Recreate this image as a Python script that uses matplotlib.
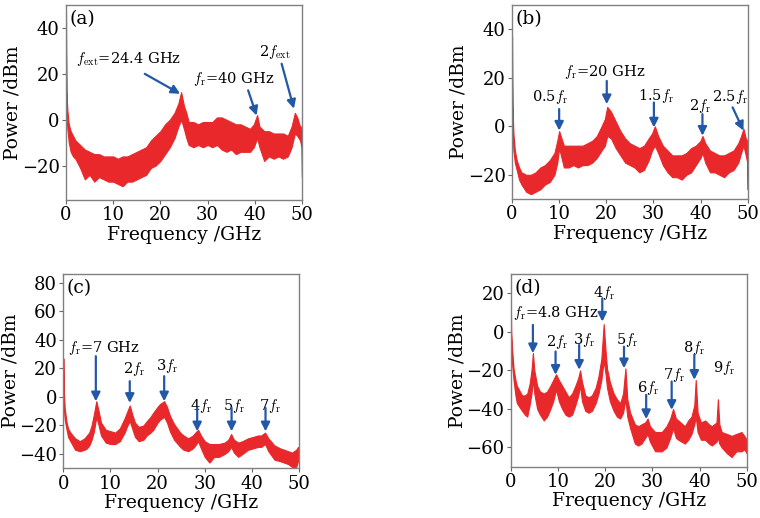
import numpy as np
import matplotlib
matplotlib.use('Agg')
import matplotlib.pyplot as plt

plt.rcParams['font.family'] = ['DejaVu Serif']
plt.rcParams['mathtext.fontset'] = 'cm'

RED = '#e8282a'
BLUE = '#2358a8'

# ---- (a) envelope of the spectrum (top / bottom of the noisy trace)
freq_a = [0.0, 0.1, 0.3, 0.6, 1.0, 1.5, 2.0, 3.0, 4.0, 5.0, 6.0, 7.0, 8.0, 9.0, 10.0,
          11.0, 12.0, 13.0, 14.0, 15.0, 16.0, 17.0, 18.0, 19.0, 20.0, 21.0, 22.0, 23.0,
          23.8, 24.4, 25.0, 25.5, 26.0, 27.0, 28.0, 29.0, 30.0, 31.0, 32.0, 33.0, 34.0,
          35.0, 36.0, 37.0, 38.0, 39.0, 39.8, 40.5, 41.0, 42.0, 43.0, 44.0, 45.0, 46.0,
          47.0, 47.8, 48.5, 49.0, 49.6, 49.9, 50.0]
top_a = [47, 12, 4, -2, -5, -7, -9, -11, -13, -14, -15, -15, -16, -16, -16,
         -17, -16, -16, -15, -14, -13, -12, -9, -7, -5, -2, 0, 3,
         7, 12, 6, 3, -1, -1, -2, -1, -1, -1, 1, 1, 0,
         -1, -2, -2, -3, -4, -2, 2, -3, -5, -5, -6, -6, -6,
         -7, -3, 3, 1, -3, -3, -10]
bot_a = [30, 2, -4, -10, -14, -16, -17, -21, -26, -24, -27, -25, -26, -27, -27,
         -28, -29, -27, -27, -26, -25, -24, -21, -20, -18, -15, -12, -8,
         -3, 0, -4, -8, -11, -12, -11, -12, -11, -12, -11, -13, -14,
         -13, -15, -14, -14, -14, -12, -8, -12, -18, -16, -17, -16, -17,
         -16, -12, -6, -7, -9, -12, -25]

# ---- (b)
freq_b = [0.0, 0.1, 0.3, 0.6, 1.0, 1.5, 2.0, 3.0, 4.0, 5.0, 6.0, 7.0, 8.0, 9.0, 9.6,
          10.0, 10.5, 11.0, 12.0, 13.0, 14.0, 15.0, 16.0, 17.0, 18.0, 19.0, 19.7, 20.2,
          21.0, 22.0, 23.0, 24.0, 25.0, 26.0, 27.0, 28.0, 29.0, 29.7, 30.3, 31.0, 32.0,
          33.0, 34.0, 35.0, 36.0, 37.0, 38.0, 39.0, 40.0, 40.4, 41.0, 42.0, 43.0, 44.0,
          45.0, 46.0, 47.0, 48.0, 48.6, 49.1, 49.6, 49.9, 50.0]
top_b = [37, 8, -3, -10, -14, -17, -19, -20, -20, -19, -17, -16, -14, -11, -6,
         -2, -5, -8, -8, -8, -8, -8, -7, -6, -4, 0, 3, 8,
         6, 2, -2, -5, -7, -8, -9, -8, -5, -3, 0, -4, -8,
         -10, -12, -12, -12, -11, -9, -8, -6, -4, -7, -10, -11, -12,
         -12, -11, -10, -7, -4, -1, -5, -6, -15]
bot_b = [20, -2, -10, -15, -18, -22, -24, -27, -28, -27, -26, -24, -23, -20, -15,
         -9, -13, -17, -17, -16, -17, -16, -16, -15, -13, -10, -8, -4,
         -5, -9, -12, -15, -16, -17, -19, -18, -14, -10, -8, -11, -16,
         -19, -21, -21, -22, -20, -19, -16, -13, -11, -15, -19, -19, -20,
         -21, -19, -18, -15, -11, -8, -12, -15, -26]

# ---- (c)
freq_c = [0.0, 0.1, 0.3, 0.7, 1.0, 1.5, 2.5, 3.5, 4.5, 5.0, 5.5, 6.0, 6.5, 7.0, 7.5,
          8.0, 9.0, 10.0, 11.0, 12.0, 13.0, 13.6, 14.1, 14.6, 15.2, 16.0, 17.0, 17.7,
          18.5, 19.1, 20.0, 20.5, 21.4, 22.0, 22.6, 23.5, 24.8, 25.5, 26.5, 27.5, 28.0,
          28.6, 29.2, 30.0, 31.0, 32.0, 33.0, 34.2, 35.0, 35.6, 36.2, 37.1, 38.0, 39.2,
          40.3, 41.3, 42.0, 42.8, 43.5, 44.8, 46.0, 47.7, 48.5, 49.4, 49.8, 50.0]
top_c = [27, 5, -8, -18, -22, -25, -29, -31, -29, -27, -25, -20, -12, -3, -10,
         -18, -23, -24, -25, -22, -15, -10, -6, -12, -18, -21, -20, -17,
         -14, -11, -7, -5, -3, -7, -13, -19, -25, -27, -29, -27, -25,
         -23, -27, -31, -33, -33, -33, -32, -30, -26, -30, -32, -31, -29,
         -28, -27, -27, -25, -29, -34, -36, -38, -39, -37, -35, -35]
bot_c = [10, -8, -16, -23, -28, -31, -37, -38, -37, -36, -34, -30, -24, -14, -20,
         -27, -32, -33, -33, -31, -25, -20, -17, -22, -28, -31, -30, -27,
         -25, -23, -18, -16, -14, -18, -24, -30, -35, -37, -38, -36, -34,
         -31, -36, -42, -46, -42, -42, -40, -38, -35, -39, -42, -40, -37,
         -36, -35, -35, -33, -38, -44, -45, -47, -49, -49, -45, -45]

# ---- (d)
freq_d = [0.0, 0.1, 0.3, 0.6, 1.0, 1.3, 2.4, 3.0, 3.5, 4.0, 4.4, 4.7, 5.0, 5.6, 6.2,
          7.0, 7.7, 8.4, 9.0, 9.6, 10.2, 10.9, 11.6, 12.3, 13.0, 13.7, 14.3, 14.7,
          15.1, 15.8, 16.5, 17.2, 18.0, 18.6, 19.2, 19.7, 20.1, 20.4, 21.0, 21.8, 22.5,
          23.2, 23.8, 24.3, 24.7, 25.3, 26.3, 27.0, 27.7, 28.5, 29.0, 29.5, 30.6, 32.0,
          33.0, 33.8, 34.4, 35.0, 35.5, 36.9, 37.6, 38.3, 38.9, 39.2, 39.6, 40.3, 41.2,
          42.0, 42.6, 43.6, 43.9, 44.2, 44.7, 45.8, 46.8, 47.8, 48.9, 49.5, 50.0]
top_d = [19, 0, -9, -19, -25, -28, -33, -33, -32, -27, -20, -11, -20, -28, -31,
         -32, -31, -28, -25, -22, -25, -28, -31, -34, -32, -28, -24, -20,
         -26, -33, -34, -33, -29, -23, -14, 4, -10, -19, -26, -32, -35,
         -37, -32, -19, -35, -42, -48, -49, -48, -47, -45, -49, -52, -52,
         -49, -45, -40, -45, -46, -49, -46, -44, -38, -25, -42, -47, -46,
         -48, -49, -47, -35, -48, -52, -53, -54, -53, -52, -54, -56]
bot_d = [5, -8, -17, -25, -33, -37, -41, -43, -44, -38, -32, -25, -32, -40, -43,
         -46, -44, -40, -36, -30, -36, -40, -43, -44, -43, -38, -33, -28,
         -36, -41, -42, -41, -37, -32, -25, -15, -22, -29, -36, -41, -44,
         -45, -42, -35, -44, -50, -58, -59, -58, -55, -53, -57, -62, -62,
         -60, -55, -50, -55, -56, -58, -56, -53, -48, -44, -52, -56, -56,
         -58, -59, -57, -55, -58, -60, -63, -65, -62, -62, -61, -63]

# annotations: (label, text x, text y, arrow tail, arrow tip)
notes_a = [(r'$f_{\rm ext}$=24.4 GHz', 2.1, 26.6, (16.7, 20.0), (24.2, 11.3)),
           (r'$f_{\rm r}$=40 GHz', 27.0, 17.9, (38.6, 12.8), (40.4, 1.8)),
           (r'2$f_{\rm ext}$', 41.0, 29.5, (45.7, 24.4), (48.3, 4.8))]
notes_b = [(r'$f_{\rm r}$=20 GHz', 11.0, 22.2, (20.1, 18.7), (20.1, 9.1)),
           (r'0.5$f_{\rm r}$', 4.2, 11.9, (10.0, 7.1), (10.0, -1.8)),
           (r'1.5$f_{\rm r}$', 26.8, 12.6, (30.1, 9.8), (30.1, -0.5)),
           (r'2$f_{\rm r}$', 37.6, 8.4, (40.4, 5.0), (40.4, -3.9)),
           (r'2.5$f_{\rm r}$', 42.4, 11.9, (46.8, 7.8), (49.1, -1.8))]
notes_c = [(r'$f_{\rm r}$=7 GHz', 1.1, 34.4, (6.9, 28.5), (6.9, -3.1)),
           (r'2$f_{\rm r}$', 12.6, 19.2, (14.1, 11.0), (14.1, -4.2)),
           (r'3$f_{\rm r}$', 19.7, 21.5, (21.4, 14.5), (21.4, -3.1)),
           (r'4$f_{\rm r}$', 26.9, -6.6, (28.4, -7.7), (28.4, -24.1)),
           (r'5$f_{\rm r}$', 33.9, -6.6, (35.7, -7.7), (35.7, -24.1)),
           (r'7$f_{\rm r}$', 41.6, -6.6, (42.9, -7.7), (42.9, -24.1))]
notes_d = [(r'$f_{\rm r}$=4.8 GHz', 0.4, 9.6, (4.7, 3.6), (4.7, -11.1)),
           (r'2$f_{\rm r}$', 7.5, -5.1, (9.5, -10.2), (9.5, -22.3)),
           (r'3$f_{\rm r}$', 13.1, -4.2, (14.5, -6.8), (14.5, -19.7)),
           (r'4$f_{\rm r}$', 17.5, 20.0, (19.4, 17.4), (19.4, 5.3)),
           (r'5$f_{\rm r}$', 22.3, -4.2, (24.0, -7.7), (24.0, -18.9)),
           (r'6$f_{\rm r}$', 26.8, -29.2, (28.7, -32.7), (28.7, -45.3)),
           (r'7$f_{\rm r}$', 32.3, -22.3, (34.1, -25.8), (34.1, -40.5)),
           (r'8$f_{\rm r}$', 36.6, -8.5, (38.9, -12.0), (38.9, -24.9)),
           (r'9$f_{\rm r}$', 42.9, -18.9, None, None)]

panels = [
    ('(a)', [0.0868, 0.6139, 0.3105, 0.3764], freq_a, top_a, bot_a, (-35, 50), [-20, 0, 20, 40], notes_a),
    ('(b)', [0.6737, 0.6158, 0.3101, 0.3745], freq_b, top_b, bot_b, (-30, 50), [-20, 0, 20, 40], notes_b),
    ('(c)', [0.0833, 0.0959, 0.3101, 0.3751], freq_c, top_c, bot_c, (-50, 86), [-40, -20, 0, 20, 40, 60, 80], notes_c),
    ('(d)', [0.6720, 0.0990, 0.3105, 0.3720], freq_d, top_d, bot_d, (-70, 30), [-60, -40, -20, 0, 20], notes_d),
]

fig = plt.figure(figsize=(7.6, 5.18), dpi=100)

for tag, pos, f, top, bot, ylim, yticks, notes in panels:
    ax = fig.add_axes(pos)
    ax.fill_between(f, bot, top, color=RED, linewidth=0.8, edgecolor=RED)
    ax.set_xlim(0, 50)
    ax.set_ylim(*ylim)
    ax.set_xticks([0, 10, 20, 30, 40, 50])
    ax.set_yticks(yticks)
    ax.tick_params(direction='out', length=3, width=0.8, labelsize=13, color='#666666', pad=1.5)
    for sp in ax.spines.values():
        sp.set_color('#808080')
        sp.set_linewidth(1.0)
    ax.set_xlabel('Frequency /GHz', fontsize=13.5, labelpad=1)
    ax.set_ylabel('Power /dBm', fontsize=13.5, labelpad=0)
    ax.text(0.015, 0.975, tag, transform=ax.transAxes, ha='left', va='top', fontsize=13.5)
    for label, tx, ty, tail, tip in notes:
        ax.text(tx, ty, label, ha='left', va='center', fontsize=10.5)
        if tail is not None:
            ax.annotate('', xy=tip, xytext=tail,
                        arrowprops=dict(arrowstyle='-|>', color=BLUE, lw=1.6,
                                        mutation_scale=13, shrinkA=0, shrinkB=0))

fig.savefig('out.png', dpi=100)
